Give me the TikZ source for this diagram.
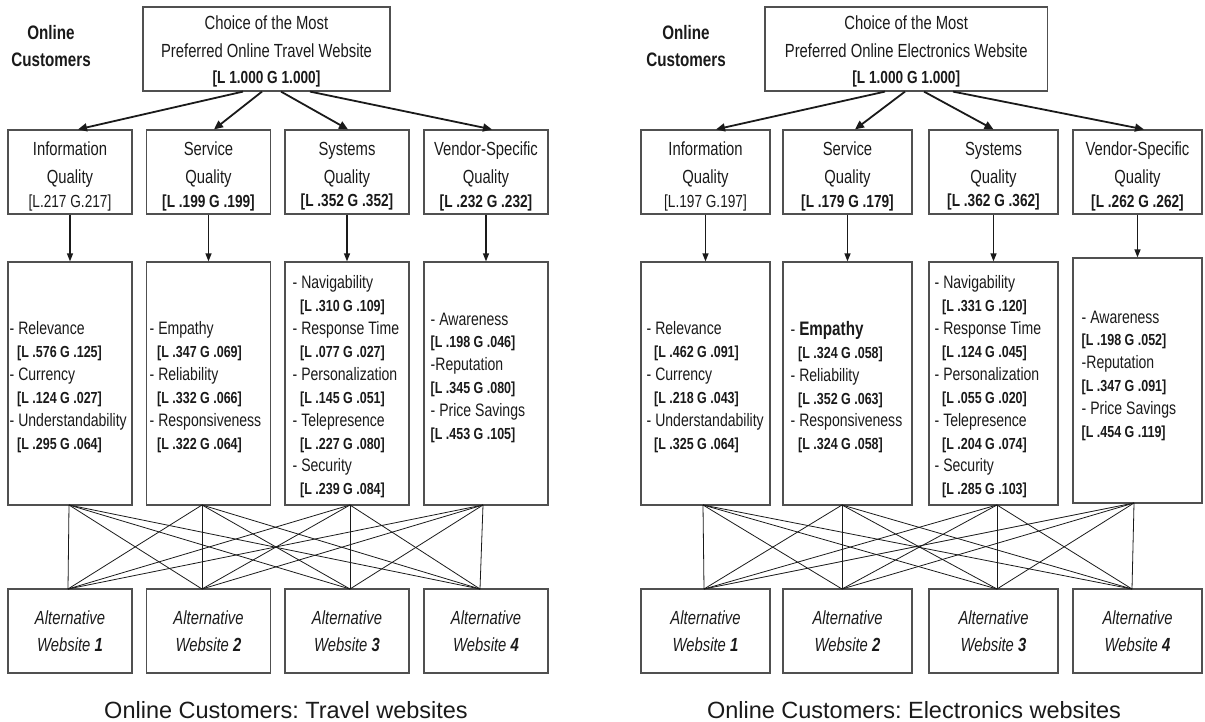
\documentclass[tikz,border=0pt]{standalone}
\usepackage{fontspec}
\setmainfont{Liberation Sans}
\newfontfamily\nar[FakeStretch=0.78]{Liberation Sans}
\usetikzlibrary{arrows.meta}
\frenchspacing
\definecolor{boxc}{HTML}{505050}
\definecolor{inkc}{HTML}{1A1A1A}
\newcommand\bk[1]{{\bfseries\fontsize{16}{22.9}\selectfont #1}}
\newcommand\tbk[1]{{\bfseries\fontsize{17.5}{25}\selectfont #1}}
\newcommand\rbk[1]{{\fontsize{17.5}{25}\selectfont #1}}
\newcommand\ind{\hspace*{7.5pt}}
\tikzset{
  box/.style={draw=boxc, line width=1.2pt, inner sep=0pt, rectangle},
  ttext/.style={inner sep=0pt, align=center, text=inkc, font=\nar\fontsize{19}{25}\selectfont, anchor=north},
  ltext/.style={inner sep=0pt, align=left, text=inkc, font=\nar\fontsize{18}{22.9}\selectfont, anchor=north west},
  atext/.style={ttext, font=\nar\itshape\fontsize{19}{25}\selectfont},
  otext/.style={ttext, font=\nar\bfseries\fontsize{19.5}{27.4}\selectfont},
  ctext/.style={inner sep=0pt, anchor=base, text=inkc, font=\fontsize{23.5}{28}\selectfont},
  arr/.style={draw=inkc, line width=1.8pt, -{Triangle[length=9pt,width=8pt]}},
  varr/.style={draw=inkc, line width=1.3pt, -{Triangle[length=8pt,width=6pt]}},
  link/.style={draw=inkc, line width=0.8pt},
}
\begin{document}
\begin{tikzpicture}[x=1pt,y=-1pt]
\useasboundingbox (0,0) rectangle (1205,722);

% ================= LEFT PANEL =================
\node[otext] (LO) at (51,25) {Online\\Customers};
\node[box, minimum width=247pt, minimum height=84pt] (LT) at (266.5,49) {};
\node[ttext] (LTt) at (266.5,16) {Choice of the Most\\[3pt]Preferred Online Travel Website\\[1pt]\tbk{[L 1.000 G 1.000]}};

\node[box, minimum width=124pt, minimum height=84pt] (L1) at (70,172) {};
\node[box, minimum width=124pt, minimum height=84pt] (L2) at (208.5,172) {};
\node[box, minimum width=124pt, minimum height=84pt] (L3) at (347,172) {};
\node[box, minimum width=124pt, minimum height=84pt] (L4) at (486,172) {};
\node[ttext] (L1t) at (70,142) {Information\\[3pt]Quality\\[-1.5pt]\rbk{[L.217 G.217]}};
\node[ttext] (L2t) at (208.5,142) {Service\\[3pt]Quality\\[-1.5pt]\tbk{[L .199 G .199]}};
\node[ttext] (L3t) at (347,142) {Systems\\[3pt]Quality\\[-1.5pt]\tbk{[L .352 G .352]}};
\node[ttext] (L4t) at (486,142) {Vendor-Specific\\[3pt]Quality\\[-1.5pt]\tbk{[L .232 G .232]}};

\node[box, minimum width=124pt, minimum height=243pt] (L5) at (70,383.5) {};
\node[box, minimum width=124pt, minimum height=243pt] (L6) at (208.5,383.5) {};
\node[box, minimum width=124pt, minimum height=243pt] (L7) at (347,383.5) {};
\node[box, minimum width=124pt, minimum height=243pt] (L8) at (486,383.5) {};
\node[ltext] (L5t) at (9.5,321.5) {- Relevance\\\ind\bk{[L .576 G .125]}\\- Currency\\\ind\bk{[L .124 G .027]}\\- Understandability\\\ind\bk{[L .295 G .064]}};
\node[ltext] (L6t) at (149.5,321.5) {- Empathy\\\ind\bk{[L .347 G .069]}\\- Reliability\\\ind\bk{[L .332 G .066]}\\- Responsiveness\\\ind\bk{[L .322 G .064]}};
\node[ltext] (L7t) at (292.5,275.5) {- Navigability\\\ind\bk{[L .310 G .109]}\\- Response Time\\\ind\bk{[L .077 G .027]}\\- Personalization\\\ind\bk{[L .145 G .051]}\\- Telepresence\\\ind\bk{[L .227 G .080]}\\- Security\\\ind\bk{[L .239 G .084]}};
\node[ltext] (L8t) at (430.5,312.5) {- Awareness\\\bk{[L .198 G .046]}\\-Reputation\\\bk{[L .345 G .080]}\\- Price Savings\\\bk{[L .453 G .105]}};

\node[box, minimum width=124pt, minimum height=84pt] (L9) at (70,631) {};
\node[box, minimum width=124pt, minimum height=84pt] (L10) at (208.5,631) {};
\node[box, minimum width=124pt, minimum height=84pt] (L11) at (347,631) {};
\node[box, minimum width=124pt, minimum height=84pt] (L12) at (486,631) {};
\node[atext] (L9t) at (70,611) {Alternative\\[1.5pt]Website \textbf{1}};
\node[atext] (L10t) at (208.5,611) {Alternative\\[1.5pt]Website \textbf{2}};
\node[atext] (L11t) at (347,611) {Alternative\\[1.5pt]Website \textbf{3}};
\node[atext] (L12t) at (486,611) {Alternative\\[1.5pt]Website \textbf{4}};

\draw[arr] ([xshift=-23.5pt]LT.south) -- ([xshift=8pt]L1.north);
\draw[arr] ([xshift=-4.5pt]LT.south) -- ([xshift=5.5pt]L2.north);
\draw[arr] ([xshift=14.5pt]LT.south) -- ([xshift=1pt]L3.north);
\draw[arr] ([xshift=43.5pt]LT.south) -- ([xshift=6pt]L4.north);
\draw[varr] (L1.south) -- (L5.north);
\draw[varr] (L2.south) -- (L6.north);
\draw[varr] (L3.south) -- (L7.north);
\draw[varr] (L4.south) -- (L8.north);

\coordinate (Lu1) at (69,505);  \coordinate (Lu2) at (202,505);
\coordinate (Lu3) at (350,505); \coordinate (Lu4) at (483,505);
\coordinate (Ld1) at (68,589);  \coordinate (Ld2) at (202,589);
\coordinate (Ld3) at (350,589); \coordinate (Ld4) at (480,589);
\foreach \i in {1,...,4}{\foreach \j in {1,...,4}{\draw[link] (Lu\i) -- (Ld\j);}}

\node[ctext] (LC) at (286,718) {Online Customers: Travel websites};

% ================= RIGHT PANEL =================
\node[otext] (RO) at (686,25) {Online\\Customers};
\node[box, minimum width=282.5pt, minimum height=84pt] (RT) at (906.25,49) {};
\node[ttext] (RTt) at (906.25,16) {Choice of the Most\\[3pt]Preferred Online Electronics Website\\[1pt]\tbk{[L 1.000 G 1.000]}};

\node[box, minimum width=129pt, minimum height=84pt] (R1) at (705.5,172) {};
\node[box, minimum width=129pt, minimum height=84pt] (R2) at (847.5,172) {};
\node[box, minimum width=129pt, minimum height=84pt] (R3) at (993.5,172) {};
\node[box, minimum width=129pt, minimum height=84pt] (R4) at (1137.5,172) {};
\node[ttext] (R1t) at (705.5,142) {Information\\[3pt]Quality\\[-1.5pt]\rbk{[L.197 G.197]}};
\node[ttext] (R2t) at (847.5,142) {Service\\[3pt]Quality\\[-1.5pt]\tbk{[L .179 G .179]}};
\node[ttext] (R3t) at (993.5,142) {Systems\\[3pt]Quality\\[-1.5pt]\tbk{[L .362 G .362]}};
\node[ttext] (R4t) at (1137.5,142) {Vendor-Specific\\[3pt]Quality\\[-1.5pt]\tbk{[L .262 G .262]}};

\node[box, minimum width=129pt, minimum height=243pt] (R5) at (705.5,383.5) {};
\node[box, minimum width=129pt, minimum height=243pt] (R6) at (847.5,383.5) {};
\node[box, minimum width=129pt, minimum height=243pt] (R7) at (993.5,383.5) {};
\node[box, minimum width=129pt, minimum height=245pt] (R8) at (1137.5,380.5) {};
\node[ltext] (R5t) at (646.5,321.5) {- Relevance\\\ind\bk{[L .462 G .091]}\\- Currency\\\ind\bk{[L .218 G .043]}\\- Understandability\\\ind\bk{[L .325 G .064]}};
\node[ltext] (R6t) at (790.5,321) {- {\bfseries\fontsize{19.5}{22.9}\selectfont Empathy}\\\ind\bk{[L .324 G .058]}\\- Reliability\\\ind\bk{[L .352 G .063]}\\- Responsiveness\\\ind\bk{[L .324 G .058]}};
\node[ltext] (R7t) at (934.5,275.5) {- Navigability\\\ind\bk{[L .331 G .120]}\\- Response Time\\\ind\bk{[L .124 G .045]}\\- Personalization\\\ind\bk{[L .055 G .020]}\\- Telepresence\\\ind\bk{[L .204 G .074]}\\- Security\\\ind\bk{[L .285 G .103]}};
\node[ltext] (R8t) at (1081.5,310.5) {- Awareness\\\bk{[L .198 G .052]}\\-Reputation\\\bk{[L .347 G .091]}\\- Price Savings\\\bk{[L .454 G .119]}};

\node[box, minimum width=129pt, minimum height=84pt] (R9) at (705.5,631) {};
\node[box, minimum width=129pt, minimum height=84pt] (R10) at (847.5,631) {};
\node[box, minimum width=129pt, minimum height=84pt] (R11) at (993.5,631) {};
\node[box, minimum width=129pt, minimum height=84pt] (R12) at (1137.5,631) {};
\node[atext] (R9t) at (705.5,611) {Alternative\\[1.5pt]Website \textbf{1}};
\node[atext] (R10t) at (847.5,611) {Alternative\\[1.5pt]Website \textbf{2}};
\node[atext] (R11t) at (993.5,611) {Alternative\\[1.5pt]Website \textbf{3}};
\node[atext] (R12t) at (1137.5,611) {Alternative\\[1.5pt]Website \textbf{4}};

\draw[arr] ([xshift=-21.25pt]RT.south) -- ([xshift=10.5pt]R1.north);
\draw[arr] ([xshift=-1.25pt]RT.south) -- ([xshift=7.5pt]R2.north);
\draw[arr] ([xshift=17.75pt]RT.south) -- (R3.north);
\draw[arr] ([xshift=46.75pt]RT.south) -- ([xshift=6.5pt]R4.north);
\draw[varr] (R1.south) -- (R5.north);
\draw[varr] (R2.south) -- (R6.north);
\draw[varr] (R3.south) -- (R7.north);
\draw[varr] (R4.south) -- (R8.north);

\coordinate (Ru1) at (703,505);  \coordinate (Ru2) at (842,505);
\coordinate (Ru3) at (997,505);  \coordinate (Ru4) at (1134,503);
\coordinate (Rd1) at (704,589);  \coordinate (Rd2) at (842,589);
\coordinate (Rd3) at (997,589);  \coordinate (Rd4) at (1132,589);
\foreach \i in {1,...,4}{\foreach \j in {1,...,4}{\draw[link] (Ru\i) -- (Rd\j);}}

\node[ctext] (RC) at (914,718) {Online Customers: Electronics websites};
\end{tikzpicture}
\end{document}
